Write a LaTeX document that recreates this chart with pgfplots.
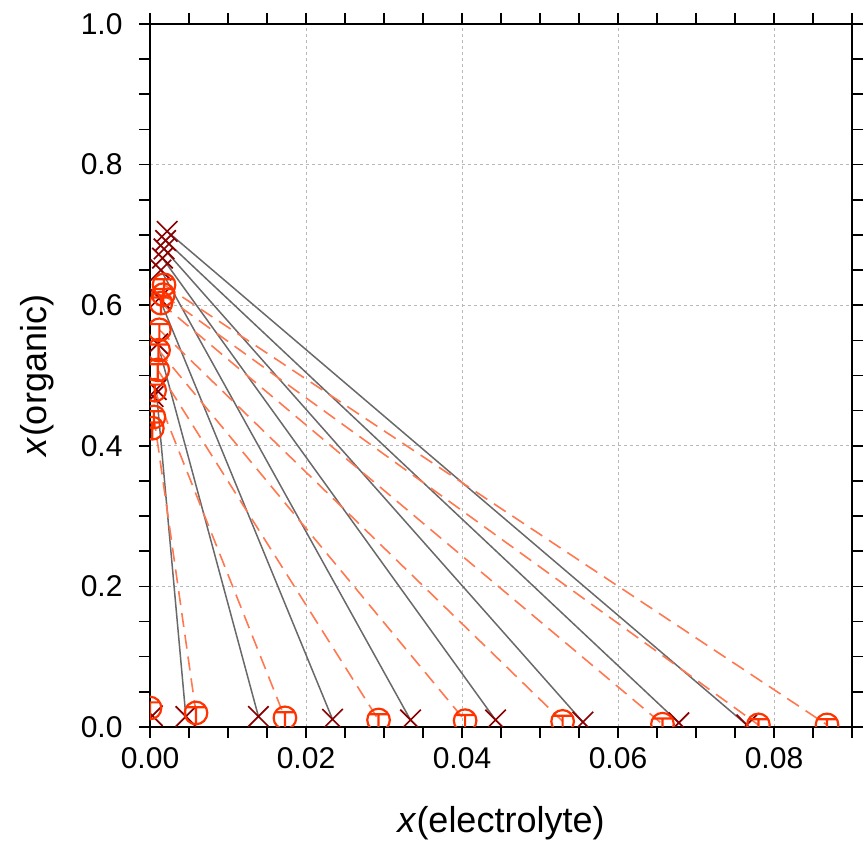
\documentclass[border=0pt]{standalone}
\usepackage{pgfplots}
\pgfplotsset{compat=1.18}
\usepackage{fontspec}
\setmainfont{Liberation Sans}
\definecolor{expcol}{RGB}{139,0,0}
\definecolor{calccol}{RGB}{255,51,0}
\definecolor{dashcol}{RGB}{255,120,80}
\definecolor{linecol}{RGB}{105,105,105}
\pgfdeclareplotmark{circT}{%
  \pgfpathcircle{\pgfpointorigin}{\pgfplotmarksize}%
  \pgfpathmoveto{\pgfqpoint{-0.8\pgfplotmarksize}{0.5\pgfplotmarksize}}%
  \pgfpathlineto{\pgfqpoint{0.8\pgfplotmarksize}{0.5\pgfplotmarksize}}%
  \pgfpathmoveto{\pgfqpoint{0pt}{0.5\pgfplotmarksize}}%
  \pgfpathlineto{\pgfqpoint{0pt}{-\pgfplotmarksize}}%
  \pgfusepathqstroke}
\begin{document}
\begin{tikzpicture}
\begin{axis}[name=ax,
  scale only axis, width=702pt, height=703pt,
  xmin=0, xmax=0.09, ymin=0, ymax=1,
  xtick={0,0.02,0.04,0.06,0.08},
  ytick={0,0.2,0.4,0.6,0.8,1.0},
  minor xtick={0.005,0.01,0.015,0.025,0.03,0.035,0.045,0.05,0.055,0.065,0.07,0.075,0.085,0.09},
  minor y tick num=3,
  tick align=outside, tick pos=both,
  major tick length=11pt, minor tick length=11pt,
  every tick/.style={black, line width=1.6pt},
  axis line style={line width=2.6pt},
  grid=major, major grid style={dashed, gray!55, line width=0.8pt},
  scaled x ticks=false, scaled y ticks=false,
  xticklabel style={/pgf/number format/.cd, fixed, fixed zerofill, precision=2, /tikz/.cd, yshift=-6pt},
  yticklabel style={/pgf/number format/.cd, fixed, fixed zerofill, precision=1, /tikz/.cd, xshift=-13pt},
  /pgf/number format/assume math mode=true,
  ticklabel style={font=\fontsize{30}{34}\selectfont},
  xlabel={\textit{x}(electrolyte)}, ylabel={\textit{x}(organic)},
  label style={font=\fontsize{36}{40}\selectfont},
  xlabel style={at={(axis description cs:0.5,-0.1366)}, anchor=center},
  ylabel style={at={(axis description cs:-0.160,0.5)}, anchor=center, rotate=0},
  clip=true, clip marker paths=true,
]
% experimental tie lines (solid)
\addplot[linecol, line width=1.5pt, no marks] coordinates {(0.0008,0.480) (0.0046,0.015)};
\addplot[linecol, line width=1.5pt, no marks] coordinates {(0.0010,0.545) (0.0139,0.015)};
\addplot[linecol, line width=1.5pt, no marks] coordinates {(0.0012,0.610) (0.0234,0.011)};
\addplot[linecol, line width=1.5pt, no marks] coordinates {(0.0014,0.650) (0.0334,0.010)};
\addplot[linecol, line width=1.5pt, no marks] coordinates {(0.0016,0.667) (0.0443,0.010)};
\addplot[linecol, line width=1.5pt, no marks] coordinates {(0.0018,0.680) (0.0555,0.007)};
\addplot[linecol, line width=1.5pt, no marks] coordinates {(0.0020,0.692) (0.0678,0.006)};
\addplot[linecol, line width=1.5pt, no marks] coordinates {(0.0022,0.705) (0.0765,0.003)};
% calculated tie lines (dashed)
\addplot[dashcol, line width=1.6pt, dash pattern=on 14pt off 8pt, no marks] coordinates {(0.0005,0.441) (0.0059,0.020)};
\addplot[dashcol, line width=1.6pt, dash pattern=on 14pt off 8pt, no marks] coordinates {(0.0006,0.479) (0.0173,0.013)};
\addplot[dashcol, line width=1.6pt, dash pattern=on 14pt off 8pt, no marks] coordinates {(0.0010,0.508) (0.0293,0.010)};
\addplot[dashcol, line width=1.6pt, dash pattern=on 14pt off 8pt, no marks] coordinates {(0.0011,0.536) (0.0404,0.009)};
\addplot[dashcol, line width=1.6pt, dash pattern=on 14pt off 8pt, no marks] coordinates {(0.0012,0.565) (0.0529,0.008)};
\addplot[dashcol, line width=1.6pt, dash pattern=on 14pt off 8pt, no marks] coordinates {(0.0014,0.603) (0.0657,0.004)};
\addplot[dashcol, line width=1.6pt, dash pattern=on 14pt off 8pt, no marks] coordinates {(0.0017,0.615) (0.0780,0.003)};
\addplot[dashcol, line width=1.6pt, dash pattern=on 14pt off 8pt, no marks] coordinates {(0.0018,0.629) (0.0868,0.003)};
% experimental points
\addplot[only marks, mark=x, mark size=14.5pt, expcol, line width=1.7pt] coordinates {
 (0.0003,0.016) (0.0046,0.015) (0.0139,0.015) (0.0234,0.011) (0.0334,0.010) (0.0443,0.010)
 (0.0555,0.007) (0.0678,0.006) (0.0765,0.003)
 (0.0004,0.470) (0.0008,0.480) (0.0010,0.545) (0.0012,0.610) (0.0014,0.650) (0.0016,0.667)
 (0.0018,0.680) (0.0020,0.692) (0.0022,0.705)};
% calculated points
\addplot[only marks, mark=circT, mark size=11.3pt, calccol, line width=2.2pt] coordinates {
 (0.0000,0.027) (0.0059,0.020) (0.0173,0.013) (0.0293,0.010) (0.0404,0.009) (0.0529,0.008)
 (0.0657,0.004) (0.0780,0.003) (0.0868,0.003)
 (0.0003,0.425) (0.0005,0.441) (0.0006,0.479) (0.0010,0.508) (0.0011,0.536) (0.0012,0.565)
 (0.0014,0.603) (0.0017,0.615) (0.0018,0.629)};
\end{axis}
\pgfresetboundingbox
\path[use as bounding box] ([xshift=-150pt,yshift=-123pt]ax.south west) rectangle ([xshift=15pt,yshift=24pt]ax.north east);
\end{tikzpicture}
\end{document}
